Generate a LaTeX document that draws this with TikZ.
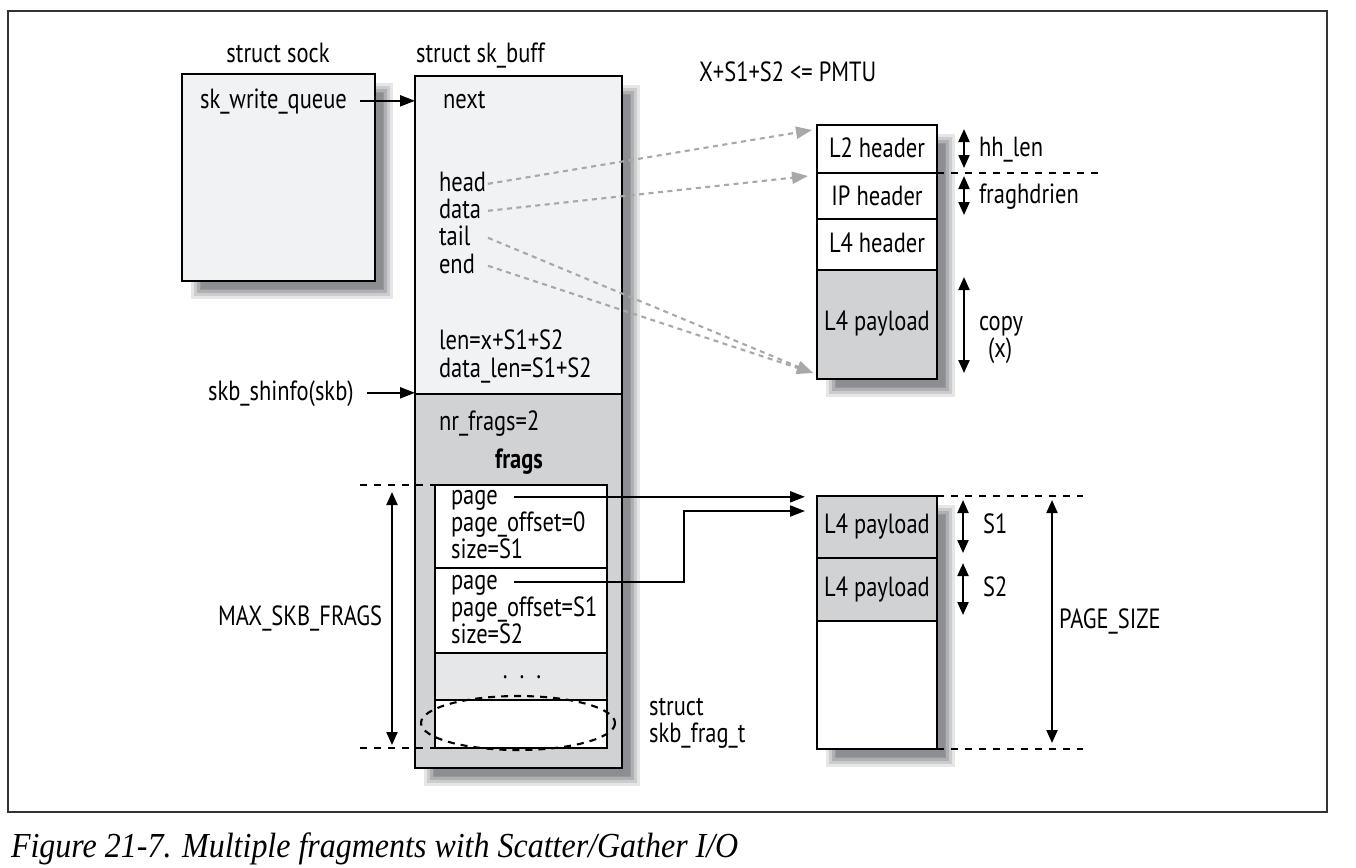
\documentclass[tikz,border=0pt]{standalone}
\usepackage{fontspec}
\setmainfont{PT Sans}[FakeStretch=0.81]
\newfontfamily\capfont{Liberation Serif}[FakeStretch=0.91]
\usetikzlibrary{arrows.meta}
\definecolor{boxlight}{RGB}{241,242,244}
\definecolor{boxgray}{RGB}{209,210,212}
\definecolor{dotgray}{RGB}{230,231,232}
\definecolor{ptrgray}{RGB}{168,168,168}
\definecolor{dropgray}{RGB}{140,142,146}
\begin{document}
\begin{tikzpicture}[x=.1mm, y=-.1mm, line width=.6pt,
  lbl/.style={inner sep=0, text height=5.6pt, text depth=1.5pt, anchor=base west},
  arr/.style={-{Triangle[length=1.5mm, width=1.1mm]}},
  dim/.style={{Triangle[length=1.3mm, width=1.1mm]}-{Triangle[length=1.3mm, width=1.1mm]}},
  ptr/.style={ptrgray, dash pattern=on .5mm off .45mm, -{Triangle[length=1.6mm, width=1.2mm]}},
  guide/.style={dash pattern=on .7mm off .7mm, line width=.5pt}]
\useasboundingbox (0,0) rectangle (1356,867);
\draw[black!80] (8,11) rectangle (1327,812);

% soft drop shadows
\foreach \xa/\ya/\xb/\yb in {182/74/375/281, 415/76/622/768, 817/125/937/379, 817/496/937/749}{
  \foreach \r/\k in {10/22, 7/45, 4/70, 1/90, 0/100}
    \fill[dropgray!\k] (\xa+19-\r,\ya+19-\r) rectangle (\xb+8+\r,\yb+8+\r);
}

% boxes
\draw[fill=boxlight] (182,74) rectangle (375,281);
\draw[fill=boxlight] (415,76) rectangle (622,394);
\draw[fill=boxgray] (415,394) rectangle (622,768);
\foreach \ya/\yb/\c in {485/568/white, 568/653/white, 653/700/dotgray, 700/748/white}
  \draw[fill=\c] (435,\ya) rectangle (607,\yb);
\draw[dash pattern=on .7mm off .6mm] (518,723) ellipse [x radius=97, y radius=27];
\foreach \ya/\yb/\c in {125/173/white, 173/219/white, 219/270/white, 270/379/boxgray}
  \draw[fill=\c] (817,\ya) rectangle (937,\yb);
\foreach \ya/\yb/\c in {496/558/boxgray, 558/621/boxgray, 621/749/white}
  \draw[fill=\c] (817,\ya) rectangle (937,\yb);

% dashed guides
\draw[guide] (937,173) -- (1103,173);
\draw[guide] (937,496) -- (1083,496);
\draw[guide] (937,749) -- (1083,749);
\draw[guide] (360,485) -- (435,485);
\draw[guide] (360,748) -- (435,748);

\coordinate (skbNW) at (415,76);
\coordinate (ptrX) at (488,0);
\coordinate (toL2) at (812,130);
\coordinate (toIP) at (808,176);
\coordinate (toPay) at (813,373);
\coordinate (toPage) at (805,496);
\coordinate (bend) at (684,511);

\fontsize{7.9}{8.4}\selectfont
\node[lbl, anchor=base] (sockT) at (278,62) {struct sock};
\node[lbl] (skbT) at (415,62) {struct sk\_buff};
\node[lbl] (swq) at (199,108) {sk\_write\_queue};
\node[lbl] (next) at (442,108) {next};
\foreach \n/\t/\y in {sbHead/head/191, sbData/data/218, sbTail/tail/245, sbEnd/end/273}
  \node[lbl] (\n) at (438,\y) {\t};
\node[lbl] (len) at (438,349) {len=x+S1+S2};
\node[lbl] (dlen) at (438,377) {data\_len=S1+S2};
\node[lbl] (shinfo) at (207,400) {skb\_shinfo(skb)};
\node[lbl] (nrfrags) at (438,430) {nr\_frags=2};
\node[lbl, anchor=base, font=\bfseries] (frags) at (519,468) {frags};
\foreach \n/\t/\y in {pg1/page/504, off1/page\_offset=0/531, sz1/size=S1/558, pg2/page/589, off2/page\_offset=S1/616, sz2/size=S2/643}
  \node[lbl] (\n) at (450,\y) {\t};
\node[lbl, anchor=base] (dots) at (522,678) {.\hspace{1.2mm}.\hspace{1.2mm}.};
\node[lbl] (fragT) at (648,715) {struct};
\node[lbl] (fragT2) at (648,742) {skb\_frag\_t};
\node[lbl] (maxf) at (217,625) {MAX\_SKB\_FRAGS};
\node[lbl] (pmtu) at (698,81) {X+S1+S2 <= PMTU};
\foreach \n/\t/\y in {l2/L2 header/157, ip/IP header/205, l4/L4 header/252, pay/L4 payload/330, pay1/L4 payload/533, pay2/L4 payload/596}
  \node[lbl, anchor=base] (\n) at (877,\y) {\t};
\node[lbl] (hhlen) at (978,156) {hh\_len};
\node[lbl] (fhl) at (978,203) {fraghdrien};
\node[lbl] (copy) at (978,330) {copy};
\node[lbl] (copyx) at (987,357) {(x)};
\node[lbl] (s1) at (982,533) {S1};
\node[lbl] (s2) at (982,596) {S2};
\node[lbl] (psize) at (1058,628) {PAGE\_SIZE};

% pointers
\draw[arr] ([xshift=1.2mm]swq.east) -- (swq.east -| skbNW);
\draw[arr] ([xshift=1.2mm]shinfo.east) -- (shinfo.east -| skbNW);
\draw[ptr] (sbHead.east -| ptrX) -- (toL2);
\draw[ptr] (sbData.east -| ptrX) -- (toIP);
\draw[ptr] (sbTail.east -| ptrX) -- (toPay);
\draw[ptr] (sbEnd.east -| ptrX) -- (toPay);
\draw[arr] ([xshift=1.5mm]pg1.east) -- (pg1.east -| toPage);
\draw[arr] ([xshift=1.5mm]pg2.east) -| (bend) -- (bend -| toPage);

% size arrows
\foreach \x/\ya/\yb in {964/129/168, 964/176/215, 964/277/373, 963/500/553, 963/563/615, 1052/500/743, 392/492/745}
  \draw[dim] (\x,\ya) -- (\x,\yb);

\node[anchor=base west, inner sep=0, font=\capfont\itshape\fontsize{10}{12}\selectfont] (cap) at (10,857) {Figure 21-7. Multiple fragments with Scatter/Gather I/O};
\end{tikzpicture}
\end{document}
